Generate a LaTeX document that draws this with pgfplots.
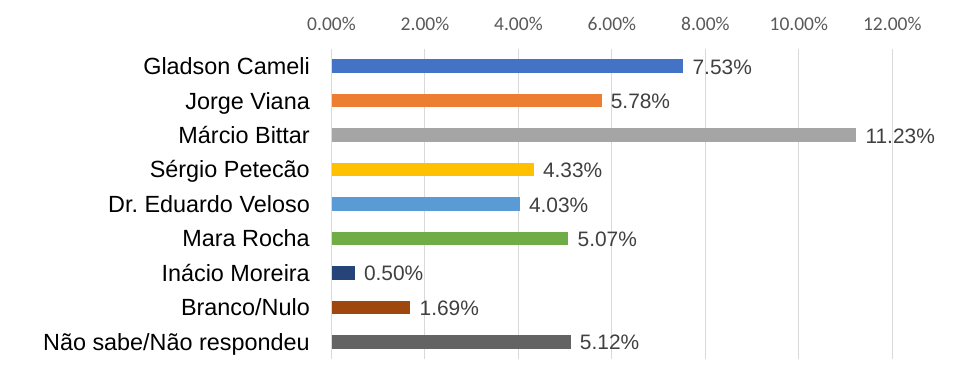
\documentclass[border=0pt]{standalone}
\usepackage{pgfplots}
\pgfplotsset{compat=1.18}
\usepackage{fontspec}
\setmainfont{Liberation Sans}
\newfontfamily\calibri{Carlito}
\frenchspacing
\definecolor{c1}{HTML}{4472C4}
\definecolor{c2}{HTML}{ED7D31}
\definecolor{c3}{HTML}{A5A5A5}
\definecolor{c4}{HTML}{FFC000}
\definecolor{c5}{HTML}{5B9BD5}
\definecolor{c6}{HTML}{70AD47}
\definecolor{c7}{HTML}{264478}
\definecolor{c8}{HTML}{9E480E}
\definecolor{c9}{HTML}{636363}
\definecolor{gridgray}{HTML}{D9D9D9}
\definecolor{tickgray}{HTML}{595959}
\definecolor{labgray}{HTML}{404040}
\begin{document}
\begin{tikzpicture}[x=1pt,y=1pt]
\useasboundingbox (0,0) rectangle (960,368);
\begin{axis}[
  at={(331.5pt,9pt)}, anchor=south west,
  scale only axis, width=560.8pt, height=310pt,
  xmin=0, xmax=12, ymin=-0.5, ymax=8.5, y dir=reverse,
  xtick={0,2,4,6,8,10,12},
  xticklabels={0.00\%,2.00\%,4.00\%,6.00\%,8.00\%,10.00\%,12.00\%},
  xticklabel pos=upper,
  ytick={0,1,2,3,4,5,6,7,8},
  yticklabels={Gladson Cameli,Jorge Viana,Márcio Bittar,Sérgio Petecão,Dr.\ Eduardo Veloso,Mara Rocha,Inácio Moreira,Branco/Nulo,Não sabe/Não respondeu},
  axis line style={draw=none},
  major tick length=0pt,
  xmajorgrids,
  grid style={draw=gridgray, line width=1pt},
  xticklabel style={font=\calibri\fontsize{19.5}{19.5}\selectfont, text=tickgray, anchor=base, inner sep=0pt, yshift=18.3pt},
  yticklabel style={font=\fontsize{23.4}{23.4}\selectfont, anchor=base east, inner sep=0pt, xshift=-21.5pt, yshift=-8.4pt},
  xbar, bar width=13.5pt, bar shift=0pt,
  nodes near coords={\pgfmathprintnumber[fixed,fixed zerofill,precision=2,assume math mode=true]{\pgfplotspointmeta}\%},
  nodes near coords style={font=\fontsize{20.9}{20.9}\selectfont, text=labgray, anchor=base west, inner sep=0pt, xshift=9pt, yshift=-8pt},
  point meta=x,
  clip=false,
]
\addplot[draw=none, fill=c1] coordinates {(7.53,0)};
\addplot[draw=none, fill=c2] coordinates {(5.78,1)};
\addplot[draw=none, fill=c3] coordinates {(11.23,2)};
\addplot[draw=none, fill=c4] coordinates {(4.33,3)};
\addplot[draw=none, fill=c5] coordinates {(4.03,4)};
\addplot[draw=none, fill=c6] coordinates {(5.07,5)};
\addplot[draw=none, fill=c7] coordinates {(0.50,6)};
\addplot[draw=none, fill=c8] coordinates {(1.69,7)};
\addplot[draw=none, fill=c9] coordinates {(5.12,8)};
\end{axis}
\end{tikzpicture}
\end{document}
